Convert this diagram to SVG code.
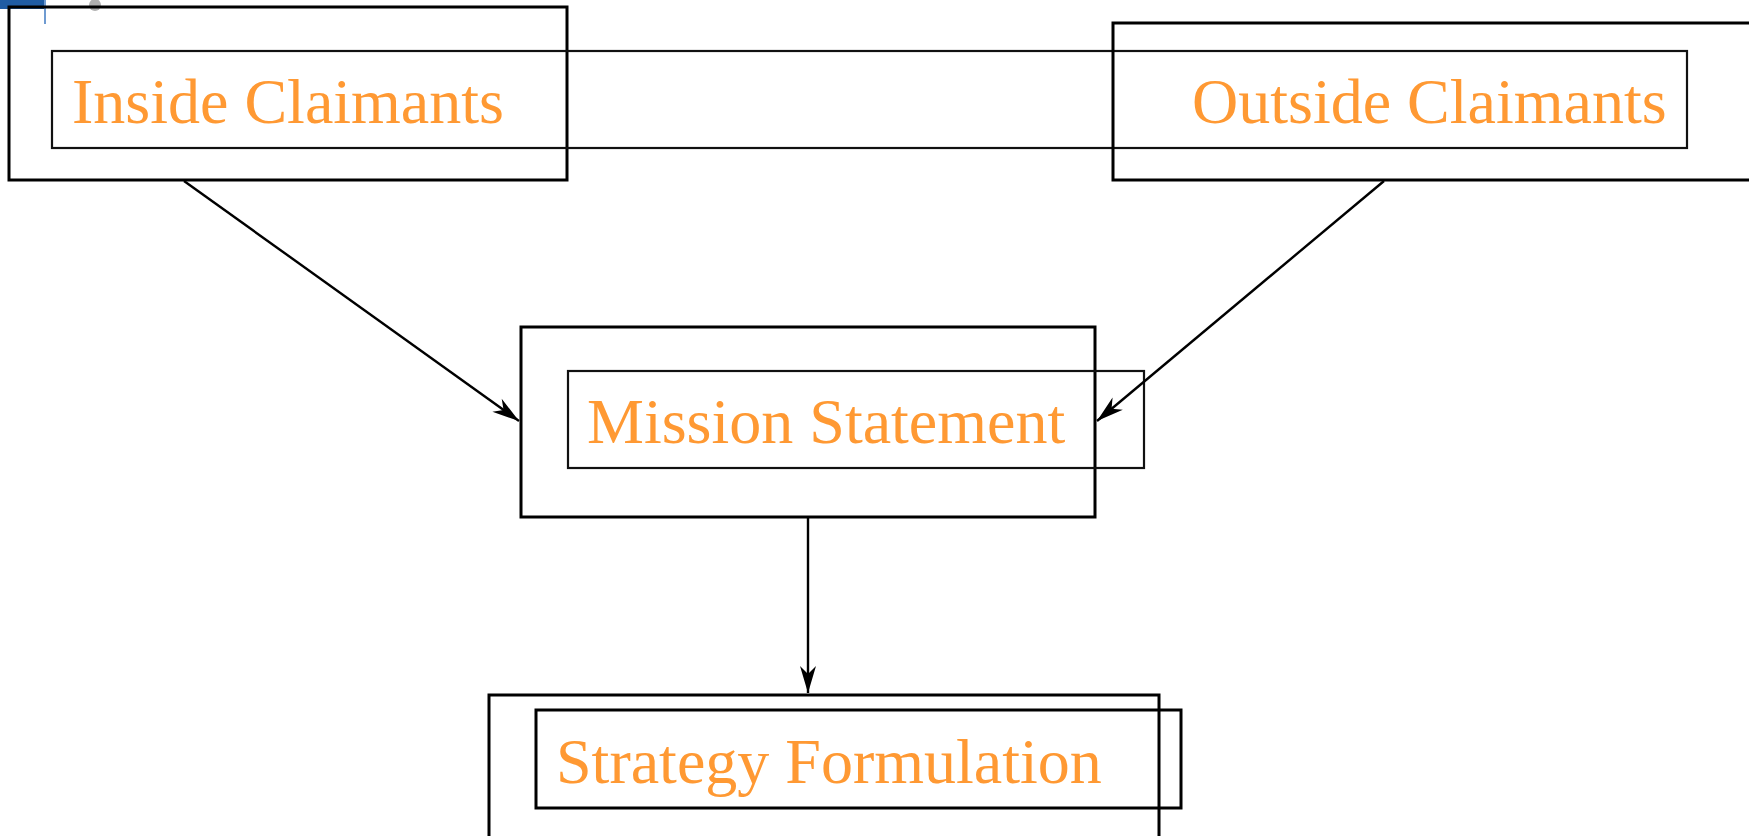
<svg xmlns="http://www.w3.org/2000/svg" width="1749" height="836" viewBox="0 0 1749 836">
<defs>
<style>
.outer{fill:none;stroke:#000;stroke-width:3}
.inner{fill:none;stroke:#111;stroke-width:2.2}
.lbl{font-family:"Liberation Serif","Times New Roman",serif;font-size:64px;fill:#FF9933}
.conn{fill:none;stroke:#000;stroke-width:2.4}
</style>
<marker id="arr" viewBox="-30 -10 32 20" refX="0" refY="0" markerWidth="32" markerHeight="20" markerUnits="userSpaceOnUse" orient="auto">
<path d="M0,0 L-27,-8 L-19,0 L-27,8 Z" fill="#000"/>
</marker>
</defs>
<rect width="1749" height="836" fill="#fff"/>
<g id="artifacts">
<rect x="0" y="0" width="45" height="9" fill="#1f5ca3"/>
<rect x="44" y="0" width="2" height="24" fill="#6f9bd1"/>
<circle cx="95" cy="5" r="6" fill="#b0b0b0"/>
</g>
<g id="inside-claimants">
<rect class="outer" x="9" y="7" width="558" height="173"/>
<rect class="inner" x="52" y="51" width="1635" height="97"/>
<text class="lbl" x="72" y="123">Inside Claimants</text>
</g>
<g id="outside-claimants">
<rect class="outer" x="1113" y="23" width="660" height="157"/>
<text class="lbl" x="1192" y="123">Outside Claimants</text>
</g>
<g id="mission-statement">
<rect class="outer" x="521" y="327" width="574" height="190"/>
<rect class="inner" x="568" y="371" width="576" height="97"/>
<text class="lbl" x="587" y="443">Mission Statement</text>
</g>
<g id="strategy-formulation">
<rect class="outer" x="489" y="695" width="670" height="160"/>
<rect class="outer" x="536" y="710" width="645" height="98"/>
<text class="lbl" x="556" y="783">Strategy Formulation</text>
</g>
<g id="connectors">
<line class="conn" x1="184" y1="181" x2="519" y2="421" marker-end="url(#arr)"/>
<line class="conn" x1="1384" y1="181" x2="1097" y2="421" marker-end="url(#arr)"/>
<line class="conn" x1="808" y1="517" x2="808" y2="693" marker-end="url(#arr)"/>
</g>
</svg>
